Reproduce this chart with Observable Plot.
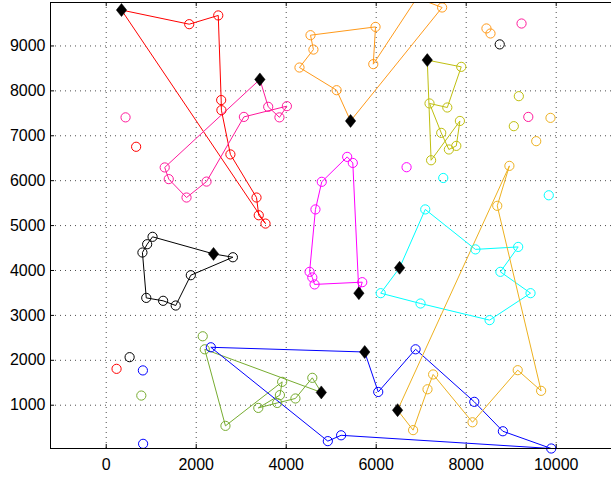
<!DOCTYPE html>
<html><head><meta charset="utf-8">
<script src="https://cdn.jsdelivr.net/npm/d3@7"></script>
<script src="https://cdn.jsdelivr.net/npm/@observablehq/plot@0.6"></script>
<style>body{margin:0;background:#fff} svg{display:block}</style>
</head><body><div id="chart"></div>
<script>
// Each route: first point is the depot (diamond), the rest are stops (circles)
const redRoute = [[340,9800],[1845,9485],[2490,9680],[2555,7795],[2560,7570],[2760,6585],[3340,5625],[3390,5230],[3540,5045]];
const pinkRoute = [[3415,8255],[3600,7645],[3850,7410],[4015,7660],[3060,7420],[2230,5980],[1785,5625],[1390,6035],[1300,6295]];
const orangeRoute = [[5430,7330],[5120,8015],[4295,8520],[4605,8920],[4540,9240],[5985,9425],[5935,8595],[6905,10070],[7465,9857]];
const oliveRoute = [[7135,8685],[7890,8535],[7580,7630],[7185,7720],[7445,7065],[7615,6695],[7780,6775],[7860,7330],[7220,6455]];
const cyanRoute = [[6520,4060],[6100,3495],[6985,3265],[8520,2895],[9430,3495],[8760,3970],[9155,4525],[8205,4470],[7090,5360]];
const blackRoute = [[2385,4370],[2815,4295],[1880,3895],[1545,3220],[1265,3325],[890,3390],[805,4400],[910,4585],[1030,4750]];
const magentaRoute = [[5615,3495],[5690,3740],[4630,3690],[4580,3845],[4520,3970],[4650,5360],[4790,5975],[5355,6530],[5480,6395]];
const greenRoute = [[4780,1285],[4580,1610],[4205,1150],[3800,1050],[3380,940],[3860,1225],[3910,1520],[2650,540],[2190,2245]];
const blueRoute = [[5745,2185],[6045,1295],[6875,2245],[8180,1075],[8815,420],[9890,36],[5220,330],[4925,200],[2325,2290]];
const goldRoute = [[6475,890],[6820,445],[7140,1355],[7265,1685],[8140,620],[9145,1780],[9665,1320],[8690,5440],[8960,6330]];

// Unconnected circles, by colour
const redLoose = [[230,1810],[665,6755]];
const pinkLoose = [[430,7410],[9230,9500],[9380,7420]];
const orangeLoose = [[8450,9390],[8540,9278]];
const goldLoose = [[9873,7399],[9556,6880]];
const oliveLoose = [[9170,7882],[9058,7214]];
const cyanLoose = [[7490,6060],[9835,5675]];
const blackLoose = [[520,2070],[8745,9035]];
const magentaLoose = [[6675,6300]];
const greenLoose = [[2145,2535],[780,1215]];
const blueLoose = [[815,1775],[820,140]];

const routeNames = ["red","pink","orange","olive","cyan","black","magenta","green","blue","gold"];
const routeColors = ["#ff0000","#ff1a9c","#ff9a1a","#bfbf10","#00ffff","#000000","#ff00ff","#77ac30","#0000ff","#edb120"];
const routePoints = [redRoute,pinkRoute,orangeRoute,oliveRoute,cyanRoute,blackRoute,magentaRoute,greenRoute,blueRoute,goldRoute];
const loosePoints = [redLoose,pinkLoose,orangeLoose,oliveLoose,cyanLoose,blackLoose,magentaLoose,greenLoose,blueLoose,goldLoose];

const xTicks = [0,2000,4000,6000,8000,10000];
const yTicks = [1000,2000,3000,4000,5000,6000,7000,8000,9000];
const xDomain = [-1238, 11229];
const yDomain = [36, 9968];

const lineData = [], stopData = [], depotData = [];
routePoints.forEach((pts, i) => {
  const c = routeColors[i];
  const seq = [...pts, pts[0]];
  seq.forEach(([x,y]) => lineData.push({x, y, route: routeNames[i], color: c}));
  pts.slice(1).forEach(([x,y]) => stopData.push({x, y, color: c}));
  depotData.push({x: pts[0][0], y: pts[0][1]});
});
loosePoints.forEach((pts, i) => pts.forEach(([x,y]) => stopData.push({x, y, color: routeColors[i]})));
const insideStops = stopData.filter(d => d.y <= yDomain[1]);
const outsideStops = stopData.filter(d => d.y > yDomain[1]);

const diamondSymbol = {
  draw(ctx, size) {
    const h = Math.sqrt(size / Math.PI), w = h * 0.8;
    ctx.moveTo(0, -h); ctx.lineTo(w, 0); ctx.lineTo(0, h); ctx.lineTo(-w, 0); ctx.closePath();
  }
};

const tx = 90, ty = 90;
const chart = Plot.plot({
  width: 611, height: 479,
  marginLeft: 50, marginRight: 0, marginTop: 2, marginBottom: 31,
  style: {fontFamily: "'Liberation Sans', Arial, Helvetica, sans-serif", fontSize: "16px", color: "#000", background: "#fff"},
  x: {domain: xDomain, ticks: xTicks, tickFormat: d => String(d), label: null},
  y: {domain: yDomain, ticks: yTicks, tickFormat: d => String(d), label: null},
  color: {type: "identity"},
  marks: [
    Plot.gridX(xTicks, {stroke: "#000", strokeOpacity: 0.7, strokeDasharray: "1,4"}),
    Plot.gridY(yTicks, {stroke: "#000", strokeOpacity: 0.7, strokeDasharray: "1,4"}),
    Plot.ruleX(xTicks, {y1: yDomain[0], y2: yDomain[0] + ty, stroke: "#000"}),
    Plot.ruleX(xTicks, {y1: yDomain[1], y2: yDomain[1] - ty, stroke: "#000"}),
    Plot.ruleY(yTicks, {x1: xDomain[0], x2: xDomain[0] + tx, stroke: "#000"}),
    Plot.axisX({ticks: xTicks, tickSize: 0, tickPadding: 10, tickFormat: d => String(d), fontSize: 16}),
    Plot.axisY({ticks: yTicks, tickSize: 0, tickPadding: 5, tickFormat: d => String(d), fontSize: 16}),
    Plot.line(lineData, {x: "x", y: "y", z: "route", stroke: "color", strokeWidth: 1, curve: "linear", clip: true}),
    Plot.dot(insideStops, {x: "x", y: "y", r: 4.6, stroke: "color", fill: "none", strokeWidth: 1}),
    Plot.dot(outsideStops, {x: "x", y: "y", r: 4.6, stroke: "color", fill: "none", strokeWidth: 1, clip: true}),
    Plot.dot(depotData, {x: "x", y: "y", r: 6.5, symbol: diamondSymbol, fill: "#000", stroke: "#000", strokeWidth: 0.5}),
    Plot.ruleY([yDomain[0], yDomain[1]], {stroke: "#000", strokeWidth: 1}),
    Plot.ruleX([xDomain[0]], {stroke: "#000", strokeWidth: 1})
  ]
});
document.getElementById("chart").appendChild(chart);
</script>
</body></html>
